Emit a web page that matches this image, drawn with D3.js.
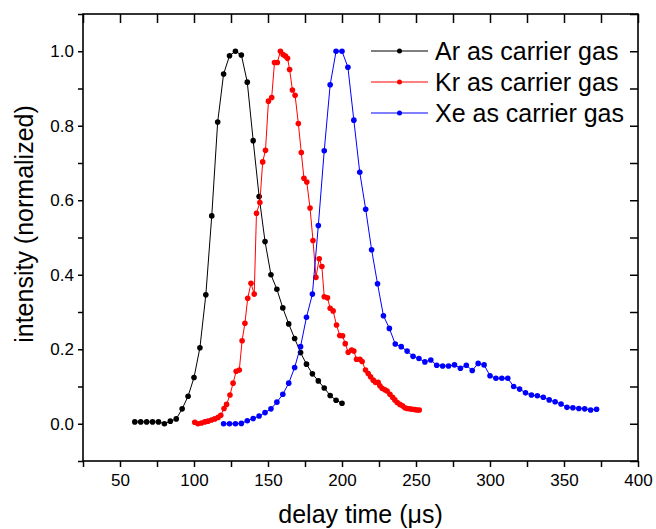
<!DOCTYPE html>
<html>
<head>
<meta charset="utf-8">
<script src="https://cdn.jsdelivr.net/npm/d3@7"></script>
<style>
  body { margin: 0; background: #fff; }
  svg { display: block; }
  text { font-family: "Liberation Sans", Arial, sans-serif; }
</style>
</head>
<body>
<svg id="chart" width="656" height="529"></svg>
<script>
// Ar as carrier gas
var arTime = [60, 64, 68, 72, 76, 80, 84, 88, 92, 96, 100, 104, 108, 112, 116, 120, 124, 128,
  132, 136, 140, 144, 148, 152, 156, 160, 164, 168, 172, 176, 180, 184, 188, 192, 196, 200];
var arInt = [0.005, 0.005, 0.005, 0.005, 0.005, 0.0, 0.007, 0.013, 0.04, 0.074, 0.124, 0.204, 0.346,
  0.558, 0.81, 0.939, 0.988, 1.0, 0.99, 0.917, 0.76, 0.61, 0.489, 0.40, 0.361, 0.311, 0.268,
  0.229, 0.191, 0.160, 0.134, 0.115, 0.096, 0.076, 0.063, 0.055];

// Kr as carrier gas
var krTime = [100.5, 102.7, 105, 107.3, 109.5, 111.8, 114, 116.3, 118.1, 120.3, 122, 124.3, 126.4,
  128.5, 130.6, 132.5, 134.4, 136.3, 138.5, 140.7, 142.2, 144.5, 146.4, 148.3, 150.3, 152.5,
  154.4, 156.3, 158.4, 160.2, 161.8, 163.2, 164.6, 166.5, 168.3, 170.5, 172.5, 174.3, 176.2,
  178.4, 180.4, 182.4, 184.6, 186.4, 188, 190.2, 192, 194, 196.3, 198.5, 200.4, 202.2, 204.2,
  206.5, 208, 209.8, 212.1, 213.6, 215.9, 217.7, 219.3, 221.1, 222.7, 224.4, 225.6, 227.1,
  229, 230.5, 232.4, 234.2, 235.7, 237.3, 239.1, 240.9, 242.5, 244, 245.9, 247.7, 249.3,
  250.8, 252.2];
var krInt = [0.004, 0.0, 0.002, 0.005, 0.007, 0.010, 0.013, 0.017, 0.023, 0.041, 0.052, 0.077, 0.109,
  0.141, 0.144, 0.223, 0.270, 0.337, 0.377, 0.348, 0.565, 0.594, 0.703, 0.734, 0.866, 0.876,
  0.970, 0.970, 1.0, 0.991, 0.987, 0.981, 0.951, 0.896, 0.882, 0.806, 0.728, 0.659, 0.649,
  0.579, 0.492, 0.393, 0.443, 0.422, 0.341, 0.338, 0.31, 0.303, 0.265, 0.237, 0.236, 0.215, 0.192,
  0.198, 0.195, 0.173, 0.173, 0.167, 0.144, 0.135, 0.126, 0.117, 0.111, 0.111, 0.102, 0.095,
  0.091, 0.088, 0.079, 0.071, 0.064, 0.057, 0.052, 0.048, 0.043, 0.041, 0.040, 0.039, 0.038,
  0.037, 0.037];

// Xe as carrier gas
var xeTime = [120, 124, 128, 132, 136, 140, 144, 148, 152, 156, 160, 164, 168, 172, 176, 180, 184,
  188, 192, 196, 200, 204, 208, 212, 216, 220, 224, 228, 232, 236, 240, 244, 248, 252, 256,
  260, 264, 268, 272, 276, 280, 284, 288, 292, 296, 300, 304, 308, 312, 316, 320, 324, 328,
  332, 336, 340, 344, 348, 352, 356, 360, 364, 368, 372];
var xeInt = [0.0, 0.0, 0.0, 0.001, 0.008, 0.014, 0.021, 0.030, 0.040, 0.058, 0.079, 0.109, 0.151,
  0.207, 0.286, 0.348, 0.532, 0.733, 0.910, 1.0, 1.0, 0.957, 0.815, 0.675, 0.576, 0.467, 0.376,
  0.290, 0.256, 0.214, 0.207, 0.195, 0.181, 0.175, 0.166, 0.171, 0.157, 0.155, 0.155, 0.158,
  0.149, 0.157, 0.143, 0.162, 0.158, 0.129, 0.122, 0.122, 0.122, 0.100, 0.093, 0.083, 0.077,
  0.075, 0.071, 0.064, 0.059, 0.053, 0.044, 0.043, 0.041, 0.040, 0.037, 0.039];

var xTicks = [25, 50, 75, 100, 125, 150, 175, 200, 225, 250, 275, 300, 325, 350, 375, 400];
var xLabels = [50, 100, 150, 200, 250, 300, 350, 400];
var yTicks = [-0.1, 0, 0.1, 0.2, 0.3, 0.4, 0.5, 0.6, 0.7, 0.8, 0.9, 1.0, 1.1];
var yLabels = [0, 0.2, 0.4, 0.6, 0.8, 1.0];

var series = [
  { name: 'Ar as carrier gas', color: '#000000', t: arTime, v: arInt },
  { name: 'Kr as carrier gas', color: '#ff0000', t: krTime, v: krInt },
  { name: 'Xe as carrier gas', color: '#0000ff', t: xeTime, v: xeInt }
];

var svg = d3.select('#chart');
var plotL = 83, plotR = 638, plotT = 14, plotB = 461;

var x = d3.scaleLinear().domain([25, 400]).range([plotL, plotR]);
var y = d3.scaleLinear().domain([-0.1, 1.1]).range([plotB, plotT]);

// axes: left/bottom ticks outward, top/right inward
var fmtX = function (d) { return xLabels.indexOf(d) >= 0 ? d : ''; };
var fmtY = function (d) {
  return yLabels.some(function (v) { return Math.abs(v - d) < 1e-9; }) ? d3.format('.1f')(d) : '';
};

svg.append('g').attr('transform', 'translate(0,' + plotB + ')')
  .call(d3.axisBottom(x).tickValues(xTicks).tickFormat(fmtX).tickSize(6).tickPadding(7));
svg.append('g').attr('transform', 'translate(0,' + plotT + ')')
  .call(d3.axisBottom(x).tickValues(xTicks).tickFormat('').tickSize(9));
svg.append('g').attr('transform', 'translate(' + plotL + ',0)')
  .call(d3.axisLeft(y).tickValues(yTicks).tickFormat(fmtY).tickSize(5).tickPadding(4));
svg.append('g').attr('transform', 'translate(' + plotR + ',0)')
  .call(d3.axisLeft(y).tickValues(yTicks).tickFormat('').tickSize(8));

svg.selectAll('.domain').remove();
svg.selectAll('.tick line').attr('stroke', '#000').attr('stroke-width', 1.5);
svg.selectAll('.tick text').attr('fill', '#000')
  .style('font-size', '17px')
  .style('font-family', '"Liberation Sans", Arial, sans-serif');

svg.append('rect')
  .attr('x', plotL).attr('y', plotT)
  .attr('width', plotR - plotL).attr('height', plotB - plotT)
  .attr('fill', 'none').attr('stroke', '#000').attr('stroke-width', 1.6);

// data
var line = d3.line().x(function (d) { return x(d[0]); }).y(function (d) { return y(d[1]); });

series.forEach(function (s) {
  var pts = s.t.map(function (t, i) { return [t, s.v[i]]; });
  svg.append('path').datum(pts)
    .attr('d', line).attr('fill', 'none')
    .attr('stroke', s.color).attr('stroke-width', 1);
  svg.append('g').selectAll('circle').data(pts).enter().append('circle')
    .attr('cx', function (d) { return x(d[0]); })
    .attr('cy', function (d) { return y(d[1]); })
    .attr('r', 2.8).attr('fill', s.color);
});

// legend
var leg = svg.append('g');
series.forEach(function (s, i) {
  var ly = 51 + i * 31;
  leg.append('line').attr('x1', 371).attr('x2', 428).attr('y1', ly).attr('y2', ly)
    .attr('stroke', s.color).attr('stroke-width', 1);
  leg.append('circle').attr('cx', 399.5).attr('cy', ly).attr('r', 2.5).attr('fill', s.color);
  leg.append('text').attr('x', 435).attr('y', ly + 9)
    .attr('font-size', 25).attr('fill', '#000').text(s.name);
});

// axis titles
svg.append('text')
  .attr('transform', 'translate(33,224) rotate(-90)')
  .attr('text-anchor', 'middle').attr('font-size', 25).text('intensity (normalized)');
svg.append('text')
  .attr('x', 360.5).attr('y', 523)
  .attr('text-anchor', 'middle').attr('font-size', 25).text('delay time (\u03bcs)');
</script>
</body>
</html>
